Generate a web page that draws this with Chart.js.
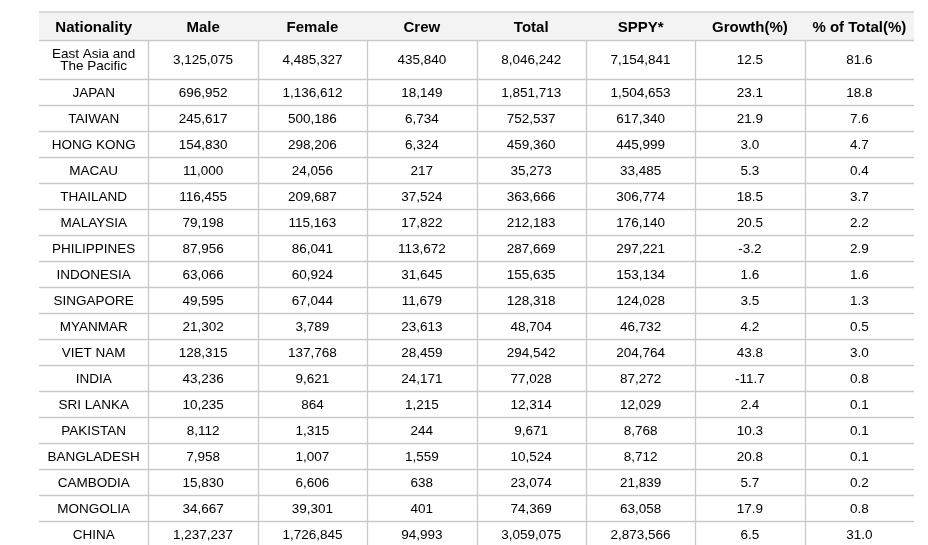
<!DOCTYPE html>
<html>
<head>
<meta charset="utf-8">
<script src="https://cdn.jsdelivr.net/npm/chart.js@4"></script>
<style>
  html, body { margin: 0; padding: 0; background: #fff; }
  #wrap { width: 928px; height: 545px; }
</style>
</head>
<body>
<div id="wrap"><canvas id="tabela" width="928" height="545"></canvas></div>
<script>
const headers = ['Nationality', 'Male', 'Female', 'Crew', 'Total', 'SPPY*', 'Growth(%)', '% of Total(%)'];
const nationalities = ['East Asia and\nThe Pacific', 'JAPAN', 'TAIWAN', 'HONG KONG', 'MACAU', 'THAILAND', 'MALAYSIA',
  'PHILIPPINES', 'INDONESIA', 'SINGAPORE', 'MYANMAR', 'VIET NAM', 'INDIA', 'SRI LANKA', 'PAKISTAN',
  'BANGLADESH', 'CAMBODIA', 'MONGOLIA', 'CHINA'];
const male = [3125075, 696952, 245617, 154830, 11000, 116455, 79198, 87956, 63066, 49595, 21302, 128315,
  43236, 10235, 8112, 7958, 15830, 34667, 1237237];
const female = [4485327, 1136612, 500186, 298206, 24056, 209687, 115163, 86041, 60924, 67044, 3789, 137768,
  9621, 864, 1315, 1007, 6606, 39301, 1726845];
const crew = [435840, 18149, 6734, 6324, 217, 37524, 17822, 113672, 31645, 11679, 23613, 28459,
  24171, 1215, 244, 1559, 638, 401, 94993];
const total = [8046242, 1851713, 752537, 459360, 35273, 363666, 212183, 287669, 155635, 128318, 48704, 294542,
  77028, 12314, 9671, 10524, 23074, 74369, 3059075];
const sppy = [7154841, 1504653, 617340, 445999, 33485, 306774, 176140, 297221, 153134, 124028, 46732, 204764,
  87272, 12029, 8768, 8712, 21839, 63058, 2873566];
const growth = [12.5, 23.1, 21.9, 3.0, 5.3, 18.5, 20.5, -3.2, 1.6, 3.5, 4.2, 43.8, -11.7, 2.4, 10.3, 20.8, 5.7, 17.9, 6.5];
const pctTotal = [81.6, 18.8, 7.6, 4.7, 0.4, 3.7, 2.2, 2.9, 1.6, 1.3, 0.5, 3.0, 0.8, 0.1, 0.1, 0.1, 0.2, 0.8, 31.0];

// layout (in y-scale units, top of table = 0)
const headerH = 28;
const firstRowH = 39;
const rowH = 26;

const fmtInt = v => v.toLocaleString('en-US');
const fmtPct = v => v.toFixed(1);

const columns = [
  nationalities,
  male.map(fmtInt),
  female.map(fmtInt),
  crew.map(fmtInt),
  total.map(fmtInt),
  sppy.map(fmtInt),
  growth.map(fmtPct),
  pctTotal.map(fmtPct)
];

// row edges
const rowEdges = [0, headerH];
for (let i = 0; i < nationalities.length; i++) {
  rowEdges.push(rowEdges[rowEdges.length - 1] + (i === 0 ? firstRowH : rowH));
}

const tablePlugin = {
  id: 'tabela',
  afterDraw(chart) {
    const { ctx, scales: { x, y } } = chart;
    const left = x.getPixelForValue(0);
    const right = x.getPixelForValue(headers.length);
    const top = y.getPixelForValue(0);
    const headBottom = y.getPixelForValue(headerH);
    const bottom = y.getPixelForValue(rowEdges[rowEdges.length - 1]);

    ctx.save();
    // header background
    ctx.fillStyle = '#f3f3f3';
    ctx.fillRect(left, top, right - left, headBottom - top);
    ctx.fillStyle = '#dcdcdc';
    ctx.fillRect(left, top - 1, right - left, 2);

    // horizontal lines
    ctx.strokeStyle = '#c9c9c9';
    ctx.lineWidth = 1.3;
    for (let r = 1; r < rowEdges.length; r++) {
      const py = Math.round(y.getPixelForValue(rowEdges[r])) + 0.5;
      ctx.beginPath();
      ctx.moveTo(left, py);
      ctx.lineTo(right, py);
      ctx.stroke();
    }
    // vertical lines (body only)
    for (let c = 1; c < headers.length; c++) {
      const px = Math.round(x.getPixelForValue(c)) + 0.5;
      ctx.beginPath();
      ctx.moveTo(px, headBottom);
      ctx.lineTo(px, bottom);
      ctx.stroke();
    }

    ctx.textAlign = 'center';
    ctx.textBaseline = 'middle';
    ctx.fillStyle = '#000';

    // headers
    ctx.font = 'bold 15px "Liberation Sans", Arial, sans-serif';
    headers.forEach((h, c) => {
      ctx.fillText(h, x.getPixelForValue(c + 0.5), y.getPixelForValue(headerH / 2) + 2);
    });

    // cells
    ctx.font = '13.5px "Liberation Sans", Arial, sans-serif';
    columns.forEach((col, c) => {
      const cx = x.getPixelForValue(c + 0.5);
      col.forEach((txt, r) => {
        const cy = y.getPixelForValue((rowEdges[r + 1] + rowEdges[r + 2]) / 2) + 1;
        const lines = String(txt).split('\n');
        const lh = 12.5;
        lines.forEach((ln, i) => {
          ctx.fillText(ln, cx, cy + (i - (lines.length - 1) / 2) * lh);
        });
      });
    });
    ctx.restore();
  }
};

new Chart(document.getElementById('tabela').getContext('2d'), {
  type: 'scatter',
  data: { datasets: [] },
  plugins: [tablePlugin],
  options: {
    responsive: false,
    animation: false,
    layout: { padding: { left: 39, right: 14, top: 12, bottom: 0 } },
    plugins: { legend: { display: false }, tooltip: { enabled: false } },
    scales: {
      x: { type: 'linear', display: false, min: 0, max: headers.length },
      y: { type: 'linear', display: false, reverse: true, min: 0, max: 533 }
    }
  }
});
</script>
</body>
</html>
